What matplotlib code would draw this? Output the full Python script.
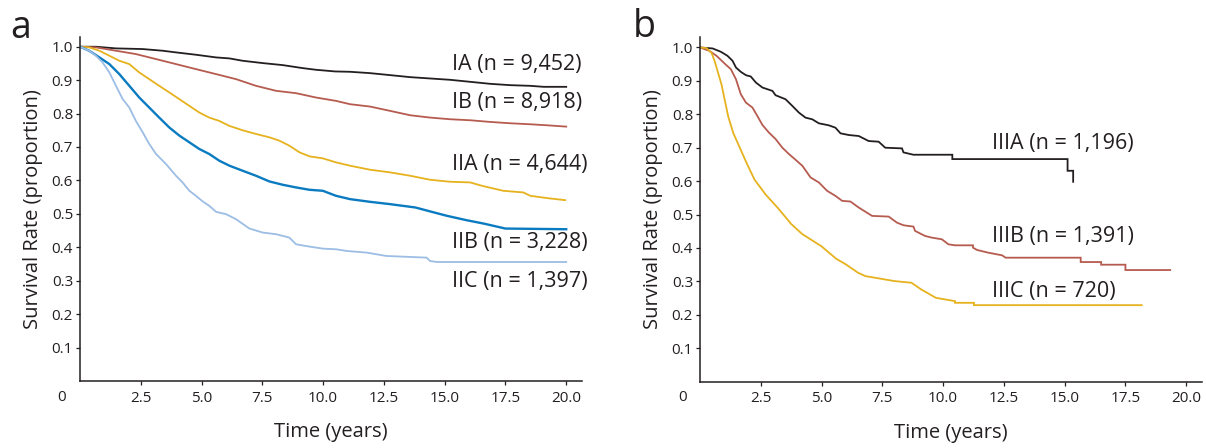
import matplotlib
matplotlib.use('Agg')
import matplotlib.pyplot as plt

plt.rcParams['font.family'] = ['Open Sans', 'DejaVu Sans']

INK = '#231F20'

# ---- panel a: stage I / II ----
ia_t = [0, 0.66, 1.48, 2.58, 3.4, 3.95, 4.77, 5.6, 6.15, 6.69, 7.52, 8.34, 9.16, 9.71, 10.5,
        11.11, 11.93, 12.76, 13.58, 14.4, 15.23, 16.05, 16.87, 17.7, 18.52, 19.07, 20.0]
ia_s = [1.0, 1.0, 0.995, 0.993, 0.988, 0.983, 0.976, 0.968, 0.965, 0.958, 0.951, 0.945, 0.936, 0.931, 0.926,
        0.925, 0.921, 0.915, 0.909, 0.905, 0.901, 0.895, 0.889, 0.885, 0.883, 0.88, 0.88]

ib_t = [0, 0.66, 1.48, 2.3, 3.13, 3.95, 4.77, 5.6, 6.42, 7.24, 8.07, 8.89, 9.71, 10.53,
        11.11, 11.93, 12.76, 13.58, 14.4, 15.23, 16.05, 16.87, 17.7, 18.52, 19.2, 20.0]
ib_s = [1.0, 0.998, 0.988, 0.978, 0.963, 0.948, 0.933, 0.918, 0.903, 0.883, 0.868, 0.861, 0.848, 0.838,
        0.828, 0.821, 0.808, 0.795, 0.788, 0.783, 0.78, 0.775, 0.771, 0.768, 0.765, 0.761]

iia_t = [0, 0.38, 0.8, 1.21, 1.62, 2.03, 2.44, 2.85, 3.26, 3.68, 4.09, 4.5, 4.91, 5.32, 5.73, 6.15,
         6.69, 7.24, 7.79, 8.2, 8.61, 9.03, 9.44, 9.99, 10.53, 11.11, 11.93, 12.76, 13.58, 14.4,
         15.23, 16.05, 16.53, 17.41, 18.24, 18.52, 19.34, 19.96]
iia_s = [1.0, 0.998, 0.988, 0.973, 0.958, 0.948, 0.923, 0.903, 0.883, 0.863, 0.843, 0.823, 0.803, 0.788,
         0.778, 0.763, 0.75, 0.739, 0.729, 0.719, 0.704, 0.684, 0.672, 0.666, 0.654, 0.644, 0.632, 0.624,
         0.614, 0.602, 0.596, 0.594, 0.584, 0.569, 0.564, 0.554, 0.546, 0.541]

iib_t = [0, 0.38, 0.8, 1.21, 1.62, 2.03, 2.44, 2.85, 3.26, 3.68, 4.09, 4.5, 4.91, 5.32, 5.73, 6.15,
         6.69, 7.24, 7.79, 8.34, 8.89, 9.44, 9.99, 10.53, 11.11, 11.93, 12.76, 13.8, 14.47, 15.1,
         15.9, 16.6, 17.5, 20.0]
iib_s = [1.0, 0.988, 0.968, 0.948, 0.918, 0.883, 0.848, 0.818, 0.788, 0.758, 0.734, 0.714, 0.694, 0.679,
         0.659, 0.644, 0.629, 0.614, 0.597, 0.587, 0.579, 0.572, 0.569, 0.554, 0.544, 0.536, 0.529, 0.519,
         0.506, 0.494, 0.481, 0.471, 0.456, 0.454]

iic_t = [0, 0.38, 0.66, 0.93, 1.21, 1.48, 1.76, 2.03, 2.3, 2.58, 2.85, 3.13, 3.54, 3.95, 4.22, 4.5,
         4.77, 5.05, 5.32, 5.6, 6.01, 6.42, 6.97, 7.52, 8.07, 8.61, 8.89, 9.44, 9.99, 10.53, 10.97,
         11.8, 12.6, 14.26, 14.4, 14.67, 20.0]
iic_s = [1.0, 0.988, 0.973, 0.953, 0.923, 0.883, 0.843, 0.818, 0.778, 0.744, 0.709, 0.679, 0.649, 0.614,
         0.594, 0.569, 0.554, 0.537, 0.524, 0.506, 0.499, 0.484, 0.456, 0.444, 0.439, 0.429, 0.409, 0.402,
         0.396, 0.394, 0.389, 0.384, 0.374, 0.369, 0.359, 0.356, 0.356]

# ---- panel b: stage III ----
iiia_t = [0, 0.52, 0.86, 1.13, 1.34, 1.48, 1.68, 1.89, 2.09, 2.30, 2.57, 2.98, 3.11, 3.52, 3.80, 4.07,
          4.34, 4.62, 4.89, 5.30, 5.57, 5.78, 6.12, 6.53, 6.94, 7.35, 7.62, 8.31, 8.37, 8.78, 10.38,
          10.38, 15.12, 15.12, 15.35, 15.35]
iiia_s = [1.0, 0.997, 0.987, 0.975, 0.96, 0.94, 0.927, 0.917, 0.913, 0.895, 0.88, 0.87, 0.857, 0.845,
          0.825, 0.805, 0.79, 0.785, 0.773, 0.767, 0.76, 0.743, 0.738, 0.735, 0.72, 0.718, 0.70, 0.698,
          0.686, 0.679, 0.679, 0.666, 0.666, 0.631, 0.631, 0.598]

iiib_t = [0, 0.38, 0.68, 1.07, 1.27, 1.48, 1.68, 1.89, 2.16, 2.36, 2.57, 2.84, 3.11, 3.39, 3.66, 3.93,
          4.21, 4.55, 4.89, 5.23, 5.57, 5.85, 6.19, 6.53, 7.08, 7.76, 8.1, 8.37, 8.78, 8.85, 9.26, 9.54,
          9.95, 10.22, 10.49, 11.23, 11.23, 11.4, 11.86, 12.43, 12.57, 15.66, 15.66, 16.5, 16.5, 17.5,
          17.5, 19.34]
iiib_s = [1.0, 0.99, 0.975, 0.948, 0.935, 0.905, 0.86, 0.835, 0.82, 0.795, 0.768, 0.745, 0.726, 0.70,
          0.681, 0.664, 0.646, 0.611, 0.596, 0.571, 0.556, 0.541, 0.539, 0.521, 0.496, 0.494, 0.476,
          0.468, 0.464, 0.451, 0.436, 0.431, 0.426, 0.411, 0.408, 0.408, 0.401, 0.394, 0.386, 0.378,
          0.371, 0.371, 0.358, 0.358, 0.350, 0.350, 0.334, 0.334]

iiic_t = [0, 0.27, 0.48, 0.61, 0.75, 0.89, 1.16, 1.37, 1.62, 1.9, 2.24, 2.7, 3.2, 3.75, 4.2, 5.0, 5.6,
          6.0, 6.5, 6.8, 8.0, 8.7, 9.1, 9.7, 10.49, 10.49, 11.27, 11.27, 18.17]
iiic_s = [1.0, 0.998, 0.983, 0.958, 0.923, 0.888, 0.794, 0.744, 0.703, 0.657, 0.605, 0.56, 0.52, 0.472,
          0.442, 0.405, 0.368, 0.351, 0.326, 0.316, 0.301, 0.296, 0.276, 0.251, 0.241, 0.236, 0.236,
          0.229, 0.229]

labels_a = ['IA (n = 9,452)', 'IB (n = 8,918)', 'IIA (n = 4,644)', 'IIB (n = 3,228)', 'IIC (n = 1,397)']
labels_b = ['IIIA (n = 1,196)', 'IIIB (n = 1,391)', 'IIIC (n = 720)']

BLACK, RED, YELLOW, BLUE, LIGHT = '#231F20', '#B65B4F', '#E6B21E', '#0A7BC0', '#9CBDE4'

series_a = [(ia_t, ia_s, BLACK, 1.3), (ib_t, ib_s, RED, 1.3), (iia_t, iia_s, YELLOW, 1.3),
            (iib_t, iib_s, BLUE, 1.7), (iic_t, iic_s, LIGHT, 1.3)]
series_b = [(iiia_t, iiia_s, BLACK, 1.3), (iiib_t, iiib_s, RED, 1.3), (iiic_t, iiic_s, YELLOW, 1.3)]

lab_pos_a = [(15.3, 0.946), (15.3, 0.832), (15.3, 0.647), (15.3, 0.413), (15.3, 0.299)]
lab_pos_b = [(12.0, 0.712), (12.0, 0.433), (12.0, 0.269)]

fig = plt.figure(figsize=(12.06, 4.48), dpi=100)
ax_a = fig.add_axes([0.0663, 0.1496, 0.4163, 0.7685])
ax_b = fig.add_axes([0.5804, 0.1480, 0.4163, 0.7685])


def style(ax):
    ax.set_xlim(0, 20.65)
    ax.set_ylim(0, 1.03)
    ax.set_xticks([2.5, 5, 7.5, 10, 12.5, 15, 17.5, 20])
    ax.set_xticklabels(['2.5', '5.0', '7.5', '10.0', '12.5', '15.0', '17.5', '20.0'])
    ax.set_yticks([0.1, 0.2, 0.3, 0.4, 0.5, 0.6, 0.7, 0.8, 0.9, 1.0])
    ax.set_yticklabels(['0.1', '0.2', '0.3', '0.4', '0.5', '0.6', '0.7', '0.8', '0.9', '1.0'])
    for s in ['top', 'right']:
        ax.spines[s].set_visible(False)
    for s in ['left', 'bottom']:
        ax.spines[s].set_linewidth(1.1)
        ax.spines[s].set_color(INK)
    ax.tick_params(direction='out', length=3, width=0.9, colors=INK, labelsize=11)
    ax.tick_params(axis='x', pad=4)
    ax.tick_params(axis='y', pad=2)
    ax.set_xlabel('Time (years)', fontsize=14.5, color=INK, labelpad=12)
    ax.set_ylabel('Survival Rate (proportion)', fontsize=14.5, color=INK, labelpad=6)


for ax, series, labels, pos in [(ax_a, series_a, labels_a, lab_pos_a),
                                (ax_b, series_b, labels_b, lab_pos_b)]:
    style(ax)
    for (t, s, c, lw) in series:
        ax.plot(t, s, color=c, lw=lw, solid_joinstyle='miter')
    for txt, (x, y) in zip(labels, pos):
        ax.text(x, y, txt, fontsize=15.5, color=INK, ha='left', va='center')

fig.text(21 / 1206, 1 - 38 / 448, 'a', fontsize=27, color=INK, ha='center', va='baseline')
fig.text(644 / 1206, 1 - 37 / 448, 'b', fontsize=27, color=INK, ha='center', va='baseline')
fig.text(62 / 1206, 1 - 397 / 448, '0', fontsize=11, color=INK, ha='center', va='center')
fig.text(683 / 1206, 1 - 397 / 448, '0', fontsize=11, color=INK, ha='center', va='center')

fig.savefig('out.png', dpi=100)
